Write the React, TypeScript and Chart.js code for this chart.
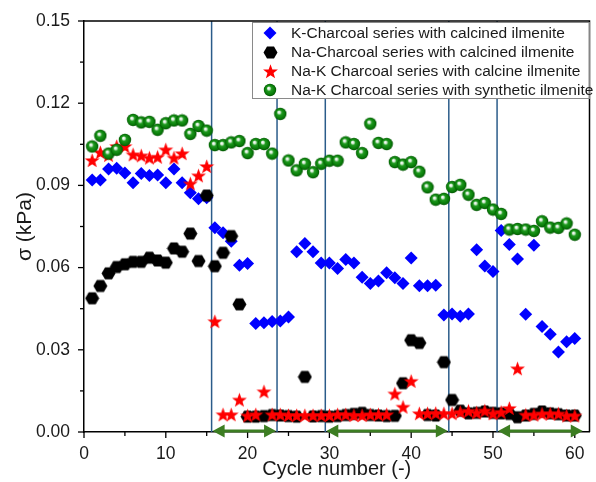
import React, { useEffect, useRef } from 'react';
import { Chart, registerables } from 'chart.js';
Chart.register(...registerables);

const cycles = [1, 2, 3, 4, 5, 6, 7, 8, 9, 10, 11, 12, 13, 14, 15, 16, 17, 18, 19, 20, 21, 22, 23, 24, 25, 26, 27, 28, 29, 30, 31, 32, 33, 34, 35, 36, 37, 38, 39, 40, 41, 42, 43, 44, 45, 46, 47, 48, 49, 50, 51, 52, 53, 54, 55, 56, 57, 58, 59, 60];

const kCharcoalCalcined = [0.092, 0.092, 0.096, 0.0963, 0.0945, 0.091, 0.0943, 0.0936, 0.0938, 0.091, 0.096, 0.091, 0.0873, 0.0851, 0.0855, 0.0745, 0.0727, 0.0696, 0.0609, 0.0615, 0.0396, 0.0399, 0.0403, 0.0405, 0.042, 0.0658, 0.0688, 0.0658, 0.0617, 0.0617, 0.0597, 0.063, 0.0617, 0.0565, 0.0542, 0.0551, 0.0581, 0.0563, 0.0542, 0.0635, 0.0534, 0.0534, 0.0536, 0.0427, 0.0431, 0.0422, 0.0431, 0.0665, 0.0606, 0.0586, 0.0735, 0.0684, 0.0631, 0.043, 0.0682, 0.0385, 0.0357, 0.0292, 0.0329, 0.0341];

const naCharcoalCalcined = [0.0488, 0.0533, 0.0579, 0.0602, 0.0612, 0.0621, 0.0621, 0.0636, 0.0626, 0.0618, 0.067, 0.0658, 0.0724, 0.0624, 0.0863, 0.0605, 0.0654, 0.0715, 0.0466, 0.0056, 0.0056, 0.0058, 0.0062, 0.006, 0.0058, 0.0056, 0.0201, 0.0057, 0.0058, 0.0056, 0.0058, 0.0062, 0.0066, 0.007, 0.0062, 0.006, 0.0058, 0.0059, 0.0178, 0.0335, 0.0325, 0.0062, 0.006, 0.0255, 0.0117, 0.0078, 0.0068, 0.007, 0.0075, 0.007, 0.0068, 0.0066, 0.0054, 0.006, 0.0066, 0.0075, 0.0068, 0.0065, 0.006, 0.006];

const naKCharcoalCalcine = [0.0991, 0.102, 0.101, 0.1042, 0.1042, 0.1012, 0.1008, 0.1, 0.1003, 0.103, 0.1, 0.1016, 0.0906, 0.0935, 0.0969, 0.0403, 0.0063, 0.0063, 0.0117, 0.0059, 0.0063, 0.0147, 0.0063, 0.0063, 0.006, 0.006, 0.006, 0.006, 0.006, 0.006, 0.0063, 0.0063, 0.006, 0.006, 0.0063, 0.0063, 0.0063, 0.0139, 0.0091, 0.0185, 0.0067, 0.0067, 0.0068, 0.0067, 0.0067, 0.0072, 0.0076, 0.007, 0.0077, 0.0067, 0.0072, 0.0086, 0.0231, 0.0062, 0.0062, 0.0066, 0.0066, 0.0066, 0.0059, 0.0059];

const naKCharcoalSynthetic = [0.1042, 0.1081, 0.1016, 0.103, 0.1066, 0.1139, 0.113, 0.1132, 0.1103, 0.1127, 0.1137, 0.1137, 0.1088, 0.1117, 0.11, 0.1047, 0.1047, 0.1057, 0.1062, 0.1018, 0.1051, 0.1051, 0.1016, 0.1161, 0.0991, 0.0955, 0.0979, 0.0948, 0.0979, 0.099, 0.099, 0.1057, 0.1051, 0.1018, 0.1125, 0.1055, 0.1051, 0.0985, 0.0976, 0.0985, 0.095, 0.0893, 0.0848, 0.0851, 0.0894, 0.0902, 0.0866, 0.0829, 0.0836, 0.0812, 0.0796, 0.0739, 0.0741, 0.0739, 0.0734, 0.0769, 0.0746, 0.0745, 0.0761, 0.072];

const seriesLabels = [
  'K-Charcoal series with calcined ilmenite',
  'Na-Charcoal series with calcined ilmenite',
  'Na-K Charcoal series with calcine ilmenite',
  'Na-K Charcoal series with synthetic ilmenite',
];

const xTickValues = [0, 5, 10, 15, 20, 25, 30, 35, 40, 45, 50, 55, 60];
const xTickLabels = ['0', '', '10', '', '20', '', '30', '', '40', '', '50', '', '60'];
const yTickValues = [0, 0.015, 0.03, 0.045, 0.06, 0.075, 0.09, 0.105, 0.12, 0.135, 0.15];
const yTickLabels = ['0.00', '', '0.03', '', '0.06', '', '0.09', '', '0.12', '', '0.15'];

const dividerCycles = [15.6, 23.6, 29.5, 44.6, 50.5];
const arrowSpans = [
  [15.6, 23.6],
  [29.5, 44.6],
  [50.5, 61.1],
];

const FONT = '"Liberation Sans", Arial, sans-serif';

function makeCanvas(size: number, draw: (ctx: CanvasRenderingContext2D, c: number) => void) {
  const cv = document.createElement('canvas');
  cv.width = size;
  cv.height = size;
  const ctx = cv.getContext('2d')!;
  draw(ctx, size / 2);
  return cv;
}

function hexagonMarker() {
  return makeCanvas(15, (ctx, c) => {
    const r = 7;
    ctx.beginPath();
    for (let k = 0; k < 6; k++) {
      const a = (Math.PI / 3) * k;
      const px = c + r * Math.cos(a);
      const py = c + r * Math.sin(a);
      if (k === 0) ctx.moveTo(px, py);
      else ctx.lineTo(px, py);
    }
    ctx.closePath();
    ctx.fillStyle = '#000000';
    ctx.fill();
  });
}

function starMarker() {
  return makeCanvas(17, (ctx, c) => {
    const ro = 7.8;
    const ri = 3.2;
    ctx.beginPath();
    for (let k = 0; k < 10; k++) {
      const a = -Math.PI / 2 + (Math.PI / 5) * k;
      const r = k % 2 === 0 ? ro : ri;
      const px = c + r * Math.cos(a);
      const py = c + 0.5 + r * Math.sin(a);
      if (k === 0) ctx.moveTo(px, py);
      else ctx.lineTo(px, py);
    }
    ctx.closePath();
    ctx.fillStyle = '#ff0000';
    ctx.fill();
  });
}

function sphereMarker() {
  return makeCanvas(14, (ctx, c) => {
    const r = 6.2;
    const g = ctx.createRadialGradient(c - 1.5, c - 2, 0.3, c, c, r);
    g.addColorStop(0, '#ffffff');
    g.addColorStop(0.18, '#cfe8cf');
    g.addColorStop(0.38, '#1f9a1f');
    g.addColorStop(0.8, '#087a08');
    g.addColorStop(1, '#005000');
    ctx.beginPath();
    ctx.arc(c, c, r, 0, Math.PI * 2);
    ctx.fillStyle = g;
    ctx.fill();
  });
}

export default function App() {
  const ref = useRef<HTMLCanvasElement | null>(null);

  useEffect(() => {
    document.body.style.margin = '0';
    const canvas = ref.current;
    if (!canvas) return;
    const hex = hexagonMarker();
    const star = starMarker();
    const sphere = sphereMarker();

    const toPoints = (vals: number[]) => cycles.map((c, i) => ({ x: c, y: vals[i] }));

    const decorations = {
      id: 'decorations',
      beforeDatasetsDraw(chart: any) {
        const { ctx, chartArea, scales } = chart;
        ctx.save();
        ctx.strokeStyle = '#2b5c8a';
        ctx.lineWidth = 1.5;
        for (const d of dividerCycles) {
          const px = scales.x.getPixelForValue(d);
          ctx.beginPath();
          ctx.moveTo(px, chartArea.top);
          ctx.lineTo(px, chartArea.bottom);
          ctx.stroke();
        }
        ctx.restore();
      },
      afterDraw(chart: any) {
        const { ctx, chartArea, scales } = chart;
        const xs = scales.x;
        const ys = scales.y;
        ctx.save();
        // frame top / right
        ctx.strokeStyle = '#000';
        ctx.lineWidth = 1.5;
        ctx.beginPath();
        ctx.moveTo(chartArea.left, chartArea.top);
        ctx.lineTo(chartArea.right, chartArea.top);
        ctx.lineTo(chartArea.right, chartArea.bottom);
        ctx.stroke();
        // ticks
        ctx.lineWidth = 1.3;
        xTickValues.forEach((v, i) => {
          const px = xs.getPixelForValue(v);
          const len = xTickLabels[i] ? 6 : 4;
          ctx.beginPath();
          ctx.moveTo(px, chartArea.bottom);
          ctx.lineTo(px, chartArea.bottom + len);
          ctx.stroke();
        });
        yTickValues.forEach((v, i) => {
          const py = ys.getPixelForValue(v);
          const len = yTickLabels[i] ? 6 : 4;
          ctx.beginPath();
          ctx.moveTo(chartArea.left - len, py);
          ctx.lineTo(chartArea.left, py);
          ctx.stroke();
        });
        // arrows
        const ay = chartArea.bottom - 1;
        ctx.strokeStyle = '#3c7d22';
        ctx.fillStyle = '#3c7d22';
        ctx.lineWidth = 3;
        for (const [a, b] of arrowSpans) {
          const x1 = xs.getPixelForValue(a);
          const x2 = xs.getPixelForValue(b);
          ctx.beginPath();
          ctx.moveTo(x1 + 8, ay);
          ctx.lineTo(x2 - 8, ay);
          ctx.stroke();
          ctx.beginPath();
          ctx.moveTo(x1 + 1, ay);
          ctx.lineTo(x1 + 13, ay - 6.5);
          ctx.lineTo(x1 + 13, ay + 6.5);
          ctx.closePath();
          ctx.fill();
          ctx.beginPath();
          ctx.moveTo(x2 - 1, ay);
          ctx.lineTo(x2 - 13, ay - 6.5);
          ctx.lineTo(x2 - 13, ay + 6.5);
          ctx.closePath();
          ctx.fill();
        }
        // legend
        const lx = 252;
        const ly = chartArea.top + 1;
        const lw = chartArea.right - lx;
        const lh = 77;
        ctx.fillStyle = '#ffffff';
        ctx.fillRect(lx, ly, lw, lh);
        ctx.strokeStyle = '#8a8a8a';
        ctx.lineWidth = 1;
        ctx.strokeRect(lx + 0.5, ly + 0.5, lw - 1, lh - 1);
        ctx.font = '15.5px ' + FONT;
        ctx.textBaseline = 'middle';
        ctx.textAlign = 'left';
        ctx.fillStyle = '#1a1a1a';
        seriesLabels.forEach((label, i) => {
          const cy = ly + 11 + i * 19;
          const mx = 270;
          if (i === 0) {
            ctx.save();
            ctx.fillStyle = '#0000ff';
            ctx.beginPath();
            ctx.moveTo(mx, cy - 6.5);
            ctx.lineTo(mx + 6.5, cy);
            ctx.lineTo(mx, cy + 6.5);
            ctx.lineTo(mx - 6.5, cy);
            ctx.closePath();
            ctx.fill();
            ctx.restore();
          } else {
            const img = i === 1 ? hex : i === 2 ? star : sphere;
            ctx.drawImage(img, Math.round(mx - img.width / 2), Math.round(cy - img.height / 2));
          }
          ctx.fillText(label, 291, cy + 0.5);
        });
        ctx.restore();
      },
    };

    const chart = new Chart(canvas, {
      type: 'scatter',
      data: {
        datasets: [
          {
            label: seriesLabels[0],
            data: toPoints(kCharcoalCalcined),
            pointStyle: 'rectRot',
            pointRadius: 6.5,
            backgroundColor: '#0000ff',
            borderWidth: 0,
            order: 4,
          },
          {
            label: seriesLabels[1],
            data: toPoints(naCharcoalCalcined),
            pointStyle: hex as any,
            backgroundColor: '#000',
            order: 3,
          },
          {
            label: seriesLabels[2],
            data: toPoints(naKCharcoalCalcine),
            pointStyle: star as any,
            backgroundColor: '#f00',
            order: 2,
          },
          {
            label: seriesLabels[3],
            data: toPoints(naKCharcoalSynthetic),
            pointStyle: sphere as any,
            backgroundColor: '#080',
            order: 1,
          },
        ],
      },
      options: {
        animation: false,
        responsive: false,
        devicePixelRatio: 1,
        layout: { padding: { top: 21, right: 1, left: 0, bottom: 0 } },
        plugins: {
          legend: { display: false },
          tooltip: { enabled: false },
        },
        scales: {
          x: {
            type: 'linear',
            min: 0,
            max: 61.8,
            afterFit(scale: any) {
              scale.height = 50;
            },
            afterBuildTicks(scale: any) {
              scale.ticks = xTickValues.map((v) => ({ value: v }));
            },
            grid: { display: false },
            border: { display: true, color: '#000', width: 1.5 },
            ticks: {
              autoSkip: false,
              maxRotation: 0,
              padding: 4,
              color: '#1a1a1a',
              font: { family: FONT, size: 17.5 },
              callback: (_v: any, i: number) => xTickLabels[i],
            },
            title: {
              display: true,
              text: 'Cycle number (-)',
              color: '#1a1a1a',
              font: { family: FONT, size: 20 },
              padding: { top: 0, bottom: 1 },
            },
          },
          y: {
            type: 'linear',
            min: 0,
            max: 0.15,
            afterFit(scale: any) {
              scale.width = 84;
            },
            afterBuildTicks(scale: any) {
              scale.ticks = yTickValues.map((v) => ({ value: v }));
            },
            grid: { display: false },
            border: { display: true, color: '#000', width: 1.5 },
            ticks: {
              autoSkip: false,
              padding: 6,
              color: '#1a1a1a',
              font: { family: FONT, size: 17.5 },
              callback: (_v: any, i: number) => yTickLabels[i],
            },
            title: {
              display: true,
              text: 'σ (kPa)',
              color: '#1a1a1a',
              font: { family: FONT, size: 21 },
              padding: { top: 13, bottom: 0 },
            },
          },
        },
      },
      plugins: [decorations],
    });

    return () => chart.destroy();
  }, []);

  return (
    <div style={{ width: 596, height: 482, background: '#fff', position: 'relative' }}>
      <canvas ref={ref} width={596} height={482} style={{ display: 'block', width: 596, height: 482 }} />
    </div>
  );
}
